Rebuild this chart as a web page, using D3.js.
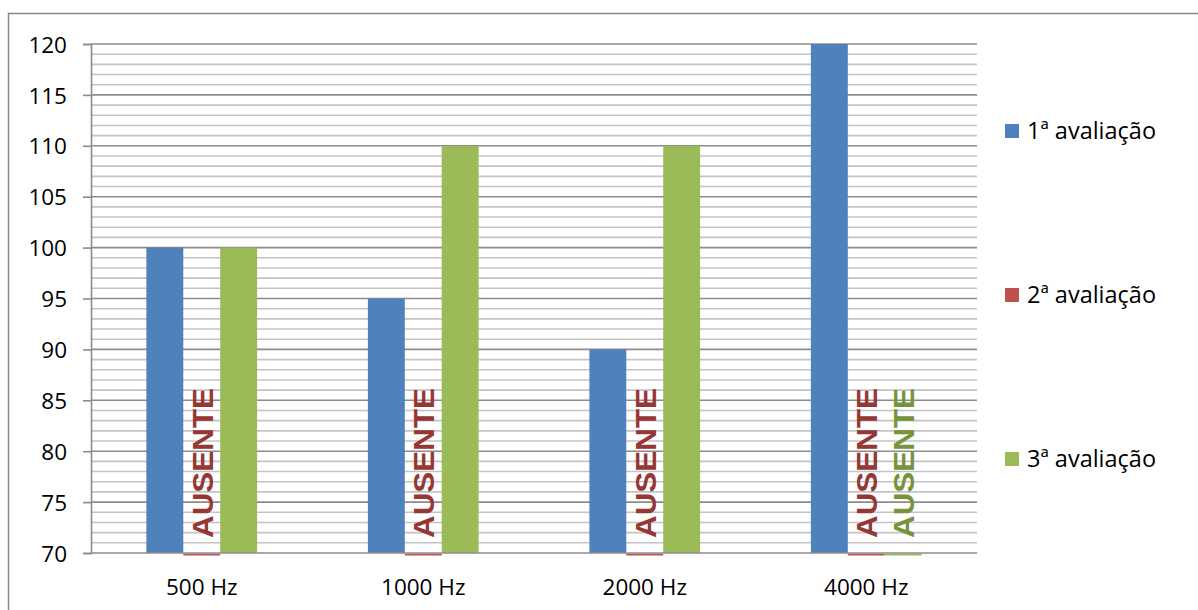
<!DOCTYPE html>
<html>
<head>
<meta charset="utf-8">
<script src="https://cdn.jsdelivr.net/npm/d3@7"></script>
<style>
  html, body { margin: 0; padding: 0; background: #fff; }
  svg { display: block; }
  .lbl { font-family: "Open Sans", "Noto Sans", sans-serif; font-size: 22.5px; fill: #000; }
  .leg { font-family: "Open Sans", "Noto Sans", sans-serif; font-size: 23.5px; fill: #000; }
</style>
</head>
<body>
<svg id="chart" width="1198" height="610"></svg>
<script>
// Frequencies tested and thresholds per evaluation (null = absent)
const categories = ["500 Hz", "1000 Hz", "2000 Hz", "4000 Hz"];
const seriesNames = ["1ª avaliação", "2ª avaliação", "3ª avaliação"];
const avaliacao1 = [100, 95, 90, 120];
const avaliacao2 = [null, null, null, null];
const avaliacao3 = [100, 110, 110, null];
const yTicks = [70, 75, 80, 85, 90, 95, 100, 105, 110, 115, 120];
const absentLabel = "AUSENTE";

const seriesValues = [avaliacao1, avaliacao2, avaliacao3];
const barColors = ["#4F81BD", "#C0504D", "#9BBB59"];
const labelColors = ["#385D8A", "#953735", "#77933C"];

const svg = d3.select("#chart");
const plot = { left: 91, right: 977, top: 44, bottom: 553 };

// Outer chart frame
svg.append("rect")
  .attr("x", 8.5).attr("y", 13.5)
  .attr("width", 1200).attr("height", 610)
  .attr("fill", "none").attr("stroke", "#888").attr("stroke-width", 1.5);

const y = d3.scaleLinear().domain([70, 120]).range([plot.bottom, plot.top]);
const x0 = d3.scaleBand().domain(categories).range([plot.left, plot.right]).padding(0);
const bw = x0.bandwidth();
const x1 = d3.scaleBand().domain(seriesNames).range([bw / 4, bw * 3 / 4]).padding(0);

// Minor (every unit) and major (every 5 units) gridlines
const minorTicks = d3.range(71, 120).filter(v => v % 5 !== 0);
svg.append("g").selectAll("line").data(minorTicks).join("line")
  .attr("x1", plot.left).attr("x2", plot.right)
  .attr("y1", d => y(d)).attr("y2", d => y(d))
  .attr("stroke", "#c4c4c4").attr("stroke-width", 1.6);

svg.append("g").selectAll("line").data(yTicks.filter(v => v !== 70)).join("line")
  .attr("x1", plot.left).attr("x2", plot.right)
  .attr("y1", d => y(d)).attr("y2", d => y(d))
  .attr("stroke", "#8c8c8c").attr("stroke-width", 1.6);

// Y axis
const yAxis = d3.axisLeft(y).tickValues(yTicks).tickSize(8).tickPadding(16);
const gy = svg.append("g").attr("transform", `translate(${plot.left},0)`).call(yAxis);
gy.select(".domain").attr("stroke", "#8c8c8c").attr("stroke-width", 1.6);
gy.selectAll(".tick line").attr("stroke", "#8c8c8c").attr("stroke-width", 1.6);
gy.selectAll(".tick text").attr("class", "lbl").attr("dy", "0.36em");

// Bars
const data = [];
categories.forEach((c, i) => {
  seriesNames.forEach((s, j) => {
    data.push({ cat: c, series: s, idx: j, value: seriesValues[j][i] });
  });
});

const gBars = svg.append("g");
gBars.selectAll("rect.bar").data(data.filter(d => d.value !== null)).join("rect")
  .attr("class", "bar")
  .attr("x", d => x0(d.cat) + x1(d.series))
  .attr("width", x1.bandwidth())
  .attr("y", d => y(d.value))
  .attr("height", d => y(70) - y(d.value))
  .attr("fill", d => barColors[d.idx]);

// X axis baseline
svg.append("line")
  .attr("x1", plot.left).attr("x2", plot.right)
  .attr("y1", y(70)).attr("y2", y(70))
  .attr("stroke", "#8c8c8c").attr("stroke-width", 1.6);

// Absent measurements: flat bar at the base plus a vertical label
const absent = data.filter(d => d.value === null);
gBars.selectAll("line.flat").data(absent).join("line")
  .attr("class", "flat")
  .attr("x1", d => x0(d.cat) + x1(d.series))
  .attr("x2", d => x0(d.cat) + x1(d.series) + x1.bandwidth())
  .attr("y1", y(70) + 1.6).attr("y2", y(70) + 1.6)
  .attr("stroke", d => barColors[d.idx]).attr("stroke-width", 1.6);

svg.append("g").selectAll("text").data(absent).join("text")
  .attr("transform", d => `translate(${x0(d.cat) + x1(d.series) + x1.bandwidth() / 2 + 11},${y(70) - 15}) rotate(-90)`)
  .attr("font-family", "'Liberation Sans', Arial, sans-serif")
  .attr("font-weight", "bold")
  .attr("font-size", 30)
  .attr("textLength", 150)
  .attr("lengthAdjust", "spacingAndGlyphs")
  .attr("fill", d => labelColors[d.idx])
  .text(absentLabel);

// X category labels
svg.append("g").selectAll("text").data(categories).join("text")
  .attr("class", "lbl")
  .attr("x", d => x0(d) + bw / 2)
  .attr("y", 595)
  .attr("text-anchor", "middle")
  .text(d => d);

// Legend
const ly = d3.scalePoint().domain(seriesNames).range([131, 459]);
const lg = svg.append("g").selectAll("g").data(seriesNames).join("g")
  .attr("transform", d => `translate(1005,${ly(d)})`);
lg.append("rect")
  .attr("x", 0).attr("y", -7).attr("width", 14).attr("height", 14)
  .attr("fill", (d, i) => barColors[i]);
lg.append("text")
  .attr("class", "leg")
  .attr("x", 22).attr("y", 8)
  .text(d => d);
</script>
</body>
</html>
